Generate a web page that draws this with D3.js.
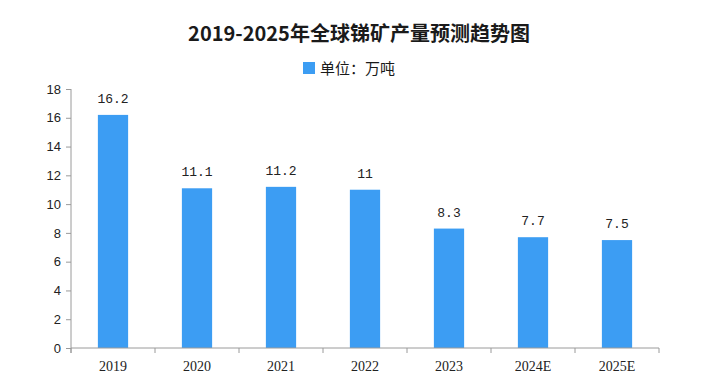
<!DOCTYPE html>
<html>
<head>
<meta charset="utf-8">
<script src="https://cdn.jsdelivr.net/npm/d3@7"></script>
<style>
  body { margin: 0; background: #fff; }
  svg { display: block; }
</style>
</head>
<body>
<svg id="chart" width="712" height="385"></svg>
<script>
var years = ["2019", "2020", "2021", "2022", "2023", "2024E", "2025E"];
var output = [16.2, 11.1, 11.2, 11, 8.3, 7.7, 7.5];
var yTicks = [0, 2, 4, 6, 8, 10, 12, 14, 16, 18];
var titleText = "2019-2025年全球锑矿产量预测趋势图";
var legendText = "单位：万吨";

var barColor = "#3c9df3";
var axisColor = "#9a9a9a";

var svg = d3.select("#chart");
var plotLeft = 71, plotRight = 659, plotTop = 89, plotBottom = 348;

var x = d3.scaleBand()
  .domain(years)
  .range([plotLeft, plotRight])
  .paddingInner(0.64)
  .paddingOuter(0.32);

var y = d3.scaleLinear()
  .domain([0, 18])
  .range([plotBottom, plotTop]);

// title
svg.append("text")
  .attr("x", 359)
  .attr("y", 41)
  .attr("text-anchor", "middle")
  .style("font-family", "'Noto Sans CJK SC', sans-serif")
  .style("font-weight", "bold")
  .style("font-size", "20px")
  .attr("fill", "#1a1a1a")
  .text(titleText);

// legend
svg.append("rect")
  .attr("x", 303).attr("y", 62)
  .attr("width", 12).attr("height", 12)
  .attr("fill", barColor);
svg.append("text")
  .attr("x", 320)
  .attr("y", 74)
  .style("font-family", "'Noto Sans CJK SC', sans-serif")
  .style("font-size", "15px")
  .attr("fill", "#1a1a1a")
  .text(legendText);

// bars
svg.append("g").selectAll("rect.bar")
  .data(output)
  .join("rect")
  .classed("bar", true)
  .attr("x", (d, i) => x(years[i]))
  .attr("y", d => y(d))
  .attr("width", x.bandwidth())
  .attr("height", d => plotBottom - y(d))
  .attr("fill", barColor);

// value labels
svg.append("g").selectAll("text")
  .data(output)
  .join("text")
  .attr("x", (d, i) => x(years[i]) + x.bandwidth() / 2)
  .attr("y", d => y(d) - 12)
  .attr("text-anchor", "middle")
  .style("font-family", "'Liberation Mono', monospace")
  .style("font-size", "13px")
  .attr("fill", "#222")
  .text(d => d);

// y axis
var yAxis = svg.append("g")
  .attr("transform", "translate(" + plotLeft + ",0)")
  .call(d3.axisLeft(y).tickValues(yTicks).tickSize(5).tickPadding(5).tickFormat(d3.format("d")));
yAxis.select(".domain").attr("stroke", axisColor).attr("d", "M0," + (plotBottom + 5) + "V" + plotTop);
yAxis.selectAll(".tick line").attr("stroke", axisColor);
yAxis.selectAll(".tick text")
  .style("font-family", "'Liberation Sans', Arial, sans-serif")
  .style("font-size", "13px")
  .attr("fill", "#222");

// x axis
var xAxis = svg.append("g")
  .attr("transform", "translate(0," + plotBottom + ")")
  .call(d3.axisBottom(x).tickSize(0).tickPadding(13));
xAxis.select(".domain").attr("stroke", axisColor).attr("d", "M" + plotLeft + ",0H" + plotRight);
xAxis.selectAll(".tick text")
  .style("font-family", "'Liberation Serif', serif")
  .style("font-size", "14px")
  .attr("fill", "#222");

// category boundary ticks
var bounds = years.map(d => x(d) - x.step() * 0.32).concat([plotRight]);
svg.append("g").selectAll("line")
  .data(bounds)
  .join("line")
  .attr("x1", d => d).attr("x2", d => d)
  .attr("y1", plotBottom).attr("y2", plotBottom + 5)
  .attr("stroke", axisColor);
</script>
</body>
</html>
